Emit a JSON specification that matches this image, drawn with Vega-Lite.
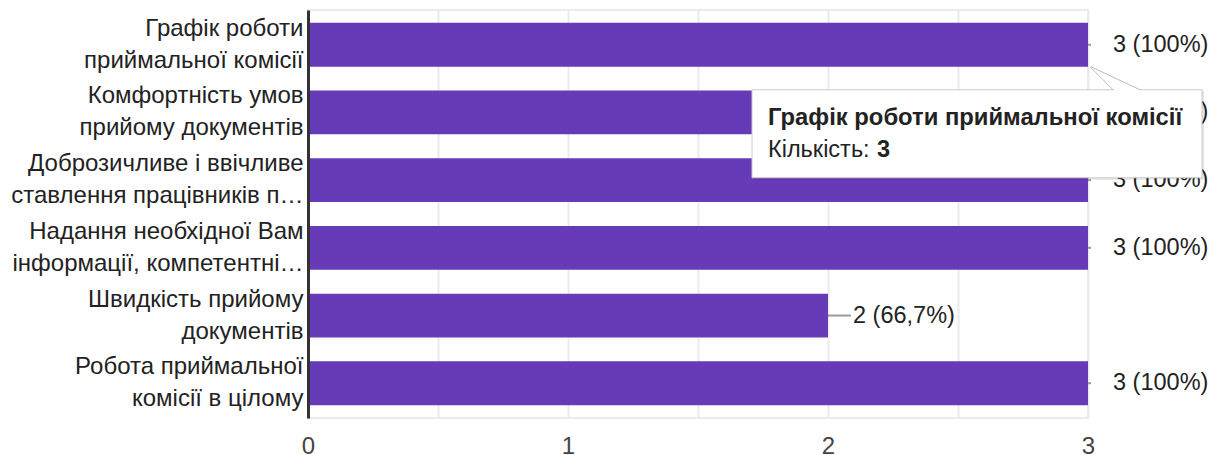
{
  "$schema": "https://vega.github.io/schema/vega-lite/v6.json",
  "width": 780,
  "height": 408,
  "autosize": "none",
  "padding": {"left": 308, "top": 10, "right": 129, "bottom": 37},
  "background": "white",
  "config": {
    "view": {"stroke": "#ebebeb", "strokeWidth": 2},
    "font": "Liberation Sans"
  },
  "data": {
    "values": [
      {"category": "Графік роботи|приймальної комісії", "count": 3, "label": "3 (100%)"},
      {"category": "Комфортність умов|прийому документів", "count": 3, "label": "3 (100%)"},
      {"category": "Доброзичливе і ввічливе|ставлення працівників п…", "count": 3, "label": "3 (100%)"},
      {"category": "Надання необхідної Вам|інформації, компетентні…", "count": 3, "label": "3 (100%)"},
      {"category": "Швидкість прийому|документів", "count": 2, "label": "2 (66,7%)"},
      {"category": "Робота приймальної|комісії в цілому", "count": 3, "label": "3 (100%)"}
    ]
  },
  "encoding": {
    "y": {
      "field": "category",
      "type": "nominal",
      "sort": null,
      "scale": {"paddingInner": 0.353, "paddingOuter": 0.19},
      "axis": {
        "title": null,
        "labelExpr": "split(datum.label, '|')",
        "labelFont": "Liberation Sans",
        "labelFontSize": 24,
        "labelColor": "#222222",
        "labelPadding": 5,
        "labelLineHeight": 32,
        "labelOffset": -16,
        "labelLimit": 0,
        "ticks": false,
        "grid": false,
        "domain": true,
        "domainColor": "#333333",
        "domainWidth": 3,
        "zindex": 1
      }
    }
  },
  "layer": [
    {
      "mark": {"type": "bar", "color": "#673ab7"},
      "encoding": {
        "x": {
          "field": "count",
          "type": "quantitative",
          "scale": {"domain": [0, 3], "nice": false},
          "axis": {
            "title": null,
            "values": [0, 0.5, 1, 1.5, 2, 2.5, 3],
            "labelExpr": "datum.value % 1 ? '' : format(datum.value, 'd')",
            "labelFont": "Liberation Sans",
            "labelFontSize": 24,
            "labelColor": "#444444",
            "labelPadding": 16,
            "labelFlush": false,
            "labelOverlap": false,
            "ticks": false,
            "domain": false,
            "grid": true,
            "gridColor": "#ebebeb",
            "gridWidth": 2
          }
        }
      }
    },
    {
      "transform": [{"filter": "datum.count == 3"}],
      "mark": {"type": "rule", "color": "#999999", "strokeWidth": 2, "x2Offset": 3},
      "encoding": {
        "x": {"field": "count", "type": "quantitative"},
        "x2": {"field": "count"}
      }
    },
    {
      "transform": [{"filter": "datum.count < 3"}],
      "mark": {"type": "rule", "color": "#999999", "strokeWidth": 2, "x2Offset": 23},
      "encoding": {
        "x": {"field": "count", "type": "quantitative"},
        "x2": {"field": "count"}
      }
    },
    {
      "mark": {"type": "text", "align": "left", "baseline": "middle", "dx": 25, "fontSize": 23.5, "color": "#222222"},
      "encoding": {
        "x": {"field": "count", "type": "quantitative"},
        "text": {"field": "label"}
      }
    },
    {
      "transform": [{"filter": "indexof(datum.category, 'Графік') == 0"}],
      "mark": {"type": "rect", "fill": "#000000", "opacity": 0.1, "xOffset": -335, "x2Offset": 116, "yOffset": 46, "y2Offset": 135},
      "encoding": {
        "x": {"field": "count", "type": "quantitative"},
        "x2": {"field": "count"},
        "y2": {"field": "category"}
      }
    },
    {
      "transform": [{"filter": "indexof(datum.category, 'Графік') == 0"}],
      "mark": {"type": "rect", "fill": "#ffffff", "stroke": "#cccccc", "strokeWidth": 1, "xOffset": -336, "x2Offset": 114, "yOffset": 45, "y2Offset": 133},
      "encoding": {
        "x": {"field": "count", "type": "quantitative"},
        "x2": {"field": "count"},
        "y2": {"field": "category"}
      }
    },
    {
      "transform": [{"filter": "indexof(datum.category, 'Графік') == 0"}],
      "mark": {"type": "rule", "color": "#ffffff", "strokeWidth": 2, "xOffset": 26, "x2Offset": 51, "yOffset": 45, "y2Offset": 45},
      "encoding": {
        "x": {"field": "count", "type": "quantitative"},
        "x2": {"field": "count"},
        "y2": {"field": "category"}
      }
    },
    {
      "transform": [{"filter": "indexof(datum.category, 'Графік') == 0"}],
      "mark": {"type": "rule", "color": "#bbbbbb", "strokeWidth": 1, "xOffset": 2, "x2Offset": 25, "yOffset": 22, "y2Offset": 45},
      "encoding": {
        "x": {"field": "count", "type": "quantitative"},
        "x2": {"field": "count"},
        "y2": {"field": "category"}
      }
    },
    {
      "transform": [{"filter": "indexof(datum.category, 'Графік') == 0"}],
      "mark": {"type": "rule", "color": "#bbbbbb", "strokeWidth": 1, "xOffset": 3, "x2Offset": 52, "yOffset": 22, "y2Offset": 45},
      "encoding": {
        "x": {"field": "count", "type": "quantitative"},
        "x2": {"field": "count"},
        "y2": {"field": "category"}
      }
    },
    {
      "transform": [
        {"filter": "indexof(datum.category, 'Графік') == 0"},
        {"calculate": "replace(datum.category, '|', ' ')", "as": "title"}
      ],
      "mark": {"type": "text", "align": "left", "baseline": "alphabetic", "dx": -320, "dy": 80, "fontSize": 23.8, "fontWeight": "bold", "color": "#222222"},
      "encoding": {
        "x": {"field": "count", "type": "quantitative"},
        "text": {"field": "title"}
      }
    },
    {
      "transform": [{"filter": "indexof(datum.category, 'Графік') == 0"}],
      "mark": {"type": "text", "align": "left", "baseline": "alphabetic", "dx": -320, "dy": 112, "fontSize": 23.5, "color": "#222222", "text": "Кількість:"},
      "encoding": {
        "x": {"field": "count", "type": "quantitative"}
      }
    },
    {
      "transform": [{"filter": "indexof(datum.category, 'Графік') == 0"}],
      "mark": {"type": "text", "align": "left", "baseline": "alphabetic", "dx": -211, "dy": 112, "fontSize": 23.5, "fontWeight": "bold", "color": "#222222"},
      "encoding": {
        "x": {"field": "count", "type": "quantitative"},
        "text": {"field": "count"}
      }
    }
  ]
}
